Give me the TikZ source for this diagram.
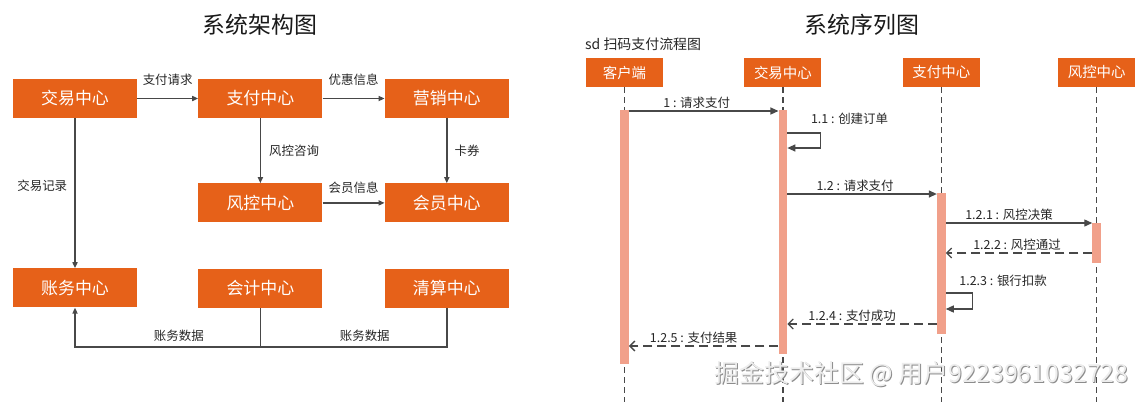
\documentclass[tikz,border=0pt]{standalone}
\usepackage{fontspec}
\setmainfont{Noto Sans CJK SC}
\usetikzlibrary{positioning,arrows.meta}

\definecolor{centerorange}{RGB}{230,97,25}
\definecolor{barsalmon}{RGB}{241,160,138}
\definecolor{inkgray}{RGB}{72,72,72}

\begin{document}
\begin{tikzpicture}[
    x=1bp, y=-1bp,
    centerbox/.style = {
        rectangle,
        fill=centerorange,
        text=white,
        minimum width=124bp,
        minimum height=39bp,
        inner sep=0pt,
        font=\fontsize{17}{17}\selectfont
    },
    rolebox/.style = {
        rectangle,
        fill=centerorange,
        text=white,
        minimum width=77bp,
        minimum height=29bp,
        inner sep=0pt,
        font=\fontsize{14.5}{14.5}\selectfont
    },
    actbar/.style = {
        rectangle,
        fill=barsalmon,
        minimum width=8.5bp,
        inner sep=0pt,
        anchor=north
    },
    headline/.style = {font=\fontsize{23}{23}\selectfont, text=black!90},
    lbl/.style = {font=\fontsize{12.5}{12.5}\selectfont, text=black!85, inner sep=2bp},
    msglbl/.style = {lbl, above, xshift=-7bp},
    flow/.style = {
        -{Triangle[length=6bp,width=5bp]},
        line width=1.6bp,
        draw=inkgray
    },
    busline/.style = {line width=1.6bp, draw=inkgray},
    lifeline/.style = {line width=1.3bp, draw=inkgray, dash pattern=on 6bp off 4bp},
    call/.style = {
        -{Triangle[length=8bp,width=7bp]},
        line width=1.3bp,
        draw=inkgray
    },
    reply/.style = {
        -{Straight Barb[length=5bp,width=10bp]},
        line width=1.3bp,
        draw=inkgray,
        dash pattern=on 9bp off 5bp
    }
]
\useasboundingbox (0,0) rectangle (1145,402);

% architecture
\node (archtitle) [headline] at (260,25) {系统架构图};

\node (trade) [centerbox] at (75,98.5) {交易中心};
\node (pay) [centerbox, right=61bp of trade] {支付中心};
\node (mkt) [centerbox, right=62bp of pay] {营销中心};
\node (risk) [centerbox, below=65bp of pay] {风控中心};
\node (member) [centerbox, below=65bp of mkt] {会员中心};
\node (acct) [centerbox, below=150bp of trade] {账务中心};
\node (ledger) [centerbox, below=46bp of risk] {会计中心};
\node (clear) [centerbox, below=46bp of member] {清算中心};

\draw [flow] (trade) -- node[lbl, above=10bp] {支付请求} (pay);
\draw [flow] (pay) -- node[lbl, above=10bp] {优惠信息} (mkt);
\draw [flow] (pay) -- node[lbl, right=6bp] {风控咨询} (risk);
\draw [flow] (mkt) -- node[lbl, right=5bp] {卡券} (member);
\draw [flow] (risk) -- node[lbl, above=7bp] {会员信息} (member);
\draw [flow] (trade) -- node[lbl, left=5bp, pos=0.45] {交易记录} (acct);

\coordinate (bus) at ([yshift=-39bp]ledger.south);
\draw [flow] (ledger.south) -- (bus) -| node[lbl, pos=0.22, above=3bp] {账务数据} (acct.south);
\draw [busline] (clear.south) |- node[lbl, pos=0.72, above=3bp] {账务数据} (bus);

% sequence
\node (seqtitle) [headline] at (862,25) {系统序列图};
\node (sdname) [lbl, anchor=west, font=\fontsize{14}{14}\selectfont] at (583,44) {sd 扫码支付流程图};

\node (client) [rolebox] at (624.5,72.5) {客户端};
\node (tradeS) [rolebox, right=81bp of client] {交易中心};
\node (payS) [rolebox, right=81bp of tradeS] {支付中心};
\node (riskS) [rolebox, right=78bp of payS] {风控中心};

\foreach \who in {client,tradeS,payS,riskS}
    \draw [lifeline] (\who.south) -- (\who.south |- 0,402);

\node (clientAct) [actbar, minimum height=254bp] at (client.south |- 0,110) {};
\node (tradeAct) [actbar, minimum height=244bp] at (tradeS.south |- 0,110) {};
\node (payAct) [actbar, minimum height=141bp] at (payS.south |- 0,193) {};
\node (riskAct) [actbar, minimum height=40bp] at (riskS.south |- 0,223) {};

\draw [call] (clientAct.east |- 0,111) -- node[msglbl] {1 : 请求支付} (tradeAct.west |- 0,111);
\draw [call] (tradeAct.east |- 0,133) -- ++(33,0) |- (tradeAct.east |- 0,148)
    node[lbl, anchor=west, pos=0, xshift=-12bp, yshift=14bp] {1.1 : 创建订单};
\draw [call] (tradeAct.east |- 0,194) -- node[msglbl] {1.2 : 请求支付} (payAct.west |- 0,194);
\draw [call] (payAct.east |- 0,223) -- node[msglbl, xshift=-3bp] {1.2.1 : 风控决策} (riskAct.west |- 0,223);
\draw [reply] (riskAct.west |- 0,253) -- node[msglbl, xshift=5bp] {1.2.2 : 风控通过} (payAct.east |- 0,253);
\draw [call] (payAct.east |- 0,293) -- ++(27,0) |- (payAct.east |- 0,309)
    node[lbl, anchor=west, pos=0, xshift=-16bp, yshift=12bp] {1.2.3 : 银行扣款};
\draw [reply] (payAct.west |- 0,324) -- node[msglbl, xshift=-3bp] {1.2.4 : 支付成功} (tradeAct.east |- 0,324);
\draw [reply] (tradeAct.west |- 0,346) -- node[msglbl, xshift=-3bp] {1.2.5 : 支付结果} (clientAct.east |- 0,346);

% watermark
\node (markShade) [anchor=east, text=black!45, font=\fontsize{25}{25}\selectfont] at (1133,375) {掘金技术社区 @ 用户9223961032728};
\node (mark) [anchor=east, text=white!93!black, font=\fontsize{25}{25}\selectfont] at (1132,374) {掘金技术社区 @ 用户9223961032728};

\end{tikzpicture}
\end{document}
